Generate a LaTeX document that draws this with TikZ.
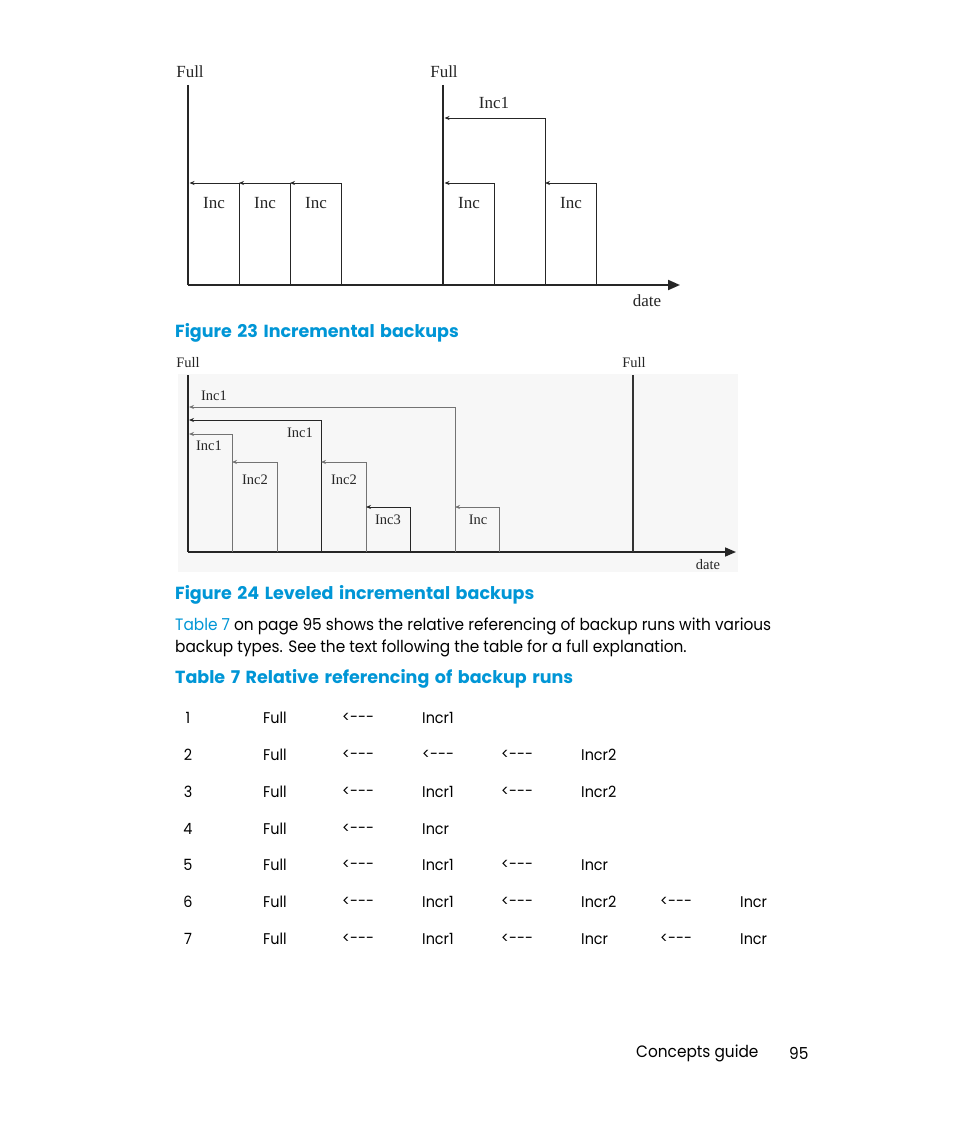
\documentclass[tikz,border=0pt]{standalone}
\usepackage{fontspec}
\setmainfont{Poppins}[FakeStretch=0.93]
\newfontfamily\capfont{Poppins}[FakeStretch=1.0,WordSpace=1.5]
\newfontfamily\figserif{Liberation Serif}
\usetikzlibrary{arrows.meta}
\definecolor{hpblue}{RGB}{0,150,214}
\begin{document}
\begin{tikzpicture}[x=1pt,y=-1pt,
  lbl/.style={font=\figserif\fontsize{17}{17}\selectfont, inner sep=0, text=black!85},
  lbls/.style={font=\figserif\fontsize{14.5}{14.5}\selectfont, inner sep=0, text=black!85},
  body/.style={font=\fontsize{16.5}{20}\selectfont, inner sep=0, anchor=west},
  captxt/.style={font=\capfont\bfseries\fontsize{17.5}{20}\selectfont, text=hpblue, inner sep=0, anchor=west},
  cell/.style={font=\fontsize{15.5}{16}\selectfont, inner sep=0, anchor=west},
  thinln/.style={line width=0.8pt, black!85},
  greyln/.style={line width=0.8pt, black!55},
  refarr/.style={-{Stealth[length=5pt,width=4pt]}},
  fullln/.style={line width=2.6pt, black!85},
  axisln/.style={line width=2pt, black!85, -{Triangle[length=12pt,width=10pt]}}]
\useasboundingbox (0,0) rectangle (954,1145);
\fill[white] (0,0) rectangle (954,1145);

% ---------- Figure 23 ----------
\coordinate (aF1t) at (188,85);  \coordinate (aF1b) at (188,285);
\coordinate (aF2t) at (443,85);  \coordinate (aF2b) at (443,285);
\coordinate (aEnd) at (680,285);
\draw[axisln] (aF1b) -- (aEnd);
\draw[fullln] (aF1t) -- (aF1b);
\draw[fullln] (aF2t) -- (aF2b);
\coordinate (aB1) at (239,285); \coordinate (aB2) at (290,285); \coordinate (aB3) at (341,285);
\coordinate (aB4) at (494,285); \coordinate (aB5) at (545,285); \coordinate (aB6) at (596,285);
\coordinate (aT0) at (189.5,183); \coordinate (aT1) at (239,183); \coordinate (aT2) at (290,183);
\coordinate (aT3) at (444.5,183); \coordinate (aT5) at (545,183); \coordinate (aI1) at (444.5,118);
\draw[thinln,refarr] (aB1) |- (aT0);
\draw[thinln,refarr] (aB2) |- (aT1);
\draw[thinln,refarr] (aB3) |- (aT2);
\draw[thinln,refarr] (aB4) |- (aT3);
\draw[thinln,refarr] (aB5) |- (aI1);
\draw[thinln,refarr] (aB6) |- (aT5);
\node[lbl] (aFull1) at (190,72) {Full};
\node[lbl] (aFull2) at (444,72) {Full};
\node[lbl] (aInc1) at (494,103) {Inc1};
\node[lbl] (aInA) at (214,203) {Inc};
\node[lbl] (aInB) at (265,203) {Inc};
\node[lbl] (aInC) at (316,203) {Inc};
\node[lbl] (aInD) at (469,203) {Inc};
\node[lbl] (aInE) at (571,203) {Inc};
\node[lbl] (aDate) at (647,301) {date};

\node[captxt] (cap23) at (175,333) {Figure 23 Incremental backups};

% ---------- Figure 24 ----------
\fill[black!3] (178,374) rectangle (738,572);
\coordinate (bF1t) at (188,375); \coordinate (bF1b) at (188,552);
\coordinate (bF2t) at (633,375); \coordinate (bF2b) at (633,552);
\coordinate (bEnd) at (736,552);
\draw[line width=1.6pt, black!85, -{Triangle[length=11pt,width=9pt]}] (bF1b) -- (bEnd);
\draw[line width=1.6pt, black!85] (bF1t) -- (bF1b);
\draw[line width=1.6pt, black!80] (bF2t) -- (bF2b);
\coordinate (bB1) at (232,552); \coordinate (bB2) at (277,552); \coordinate (bB3) at (321,552);
\coordinate (bB4) at (366,552); \coordinate (bB5) at (410,552); \coordinate (bB6) at (455,552);
\coordinate (bB7) at (499,552);
\coordinate (bL1) at (189,407); \coordinate (bL2) at (189,420); \coordinate (bL3) at (189,434);
\coordinate (bT1) at (232,462); \coordinate (bT3) at (321,462);
\coordinate (bT4) at (366,507); \coordinate (bT6) at (455,507);
\draw[greyln,refarr] (bB6) |- (bL1);
\draw[thinln,refarr] (bB3) |- (bL2);
\draw[greyln,refarr] (bB1) |- (bL3);
\draw[greyln,refarr] (bB2) |- (bT1);
\draw[greyln,refarr] (bB4) |- (bT3);
\draw[thinln,refarr] (bB5) |- (bT4);
\draw[greyln,refarr] (bB7) |- (bT6);
\node[lbls] (bFull1) at (188,363) {Full};
\node[lbls] (bFull2) at (634,363) {Full};
\node[lbls] (bI1a) at (214,396) {Inc1};
\node[lbls] (bI1b) at (300,433) {Inc1};
\node[lbls] (bI1c) at (209,446) {Inc1};
\node[lbls] (bI2a) at (255,480) {Inc2};
\node[lbls] (bI2b) at (344,480) {Inc2};
\node[lbls] (bI3) at (388,520) {Inc3};
\node[lbls] (bInc) at (478,520) {Inc};
\node[lbls] (bDate) at (708,565) {date};

\node[captxt] (cap24) at (175,595) {Figure 24 Leveled incremental backups};

% ---------- Text ----------
\node[body] (txt1) at (175,626) {\textcolor{hpblue}{Table 7} on page 95 shows the relative referencing of backup runs with various};
\node[body] (txt2) at (175,648) {backup types. See the text following the table for a full explanation.};
\node[captxt] (capT7) at (175,679) {Table 7 Relative referencing of backup runs};

% ---------- Table ----------
\foreach \r/\y/\a/\b/\c/\d/\e/\f in {
  1/718/{<-{}-{}-}/Incr1///,
  2/755/{<-{}-{}-}/{<-{}-{}-}/{<-{}-{}-}/Incr2//,
  3/792/{<-{}-{}-}/Incr1/{<-{}-{}-}/Incr2//,
  4/829/{<-{}-{}-}/Incr///,
  5/865/{<-{}-{}-}/Incr1/{<-{}-{}-}/Incr//,
  6/902/{<-{}-{}-}/Incr1/{<-{}-{}-}/Incr2/{<-{}-{}-}/Incr,
  7/939/{<-{}-{}-}/Incr1/{<-{}-{}-}/Incr/{<-{}-{}-}/Incr}{
  \node[cell,anchor=center] (n\r) at (188,\y) {\r};
  \node[cell] (full\r) at (263,\y) {Full};
  \node[cell] (ca\r) at (342,\y) {\a};
  \node[cell] (cb\r) at (422,\y) {\b};
  \node[cell] (cc\r) at (501,\y) {\c};
  \node[cell] (cd\r) at (581,\y) {\d};
  \node[cell] (ce\r) at (660,\y) {\e};
  \node[cell] (cf\r) at (740,\y) {\f};
}

% ---------- Footer ----------
\node[body] (foot1) at (636,1053) {Concepts guide};
\node[body] (foot2) at (789,1053) {95};
\end{tikzpicture}
\end{document}
